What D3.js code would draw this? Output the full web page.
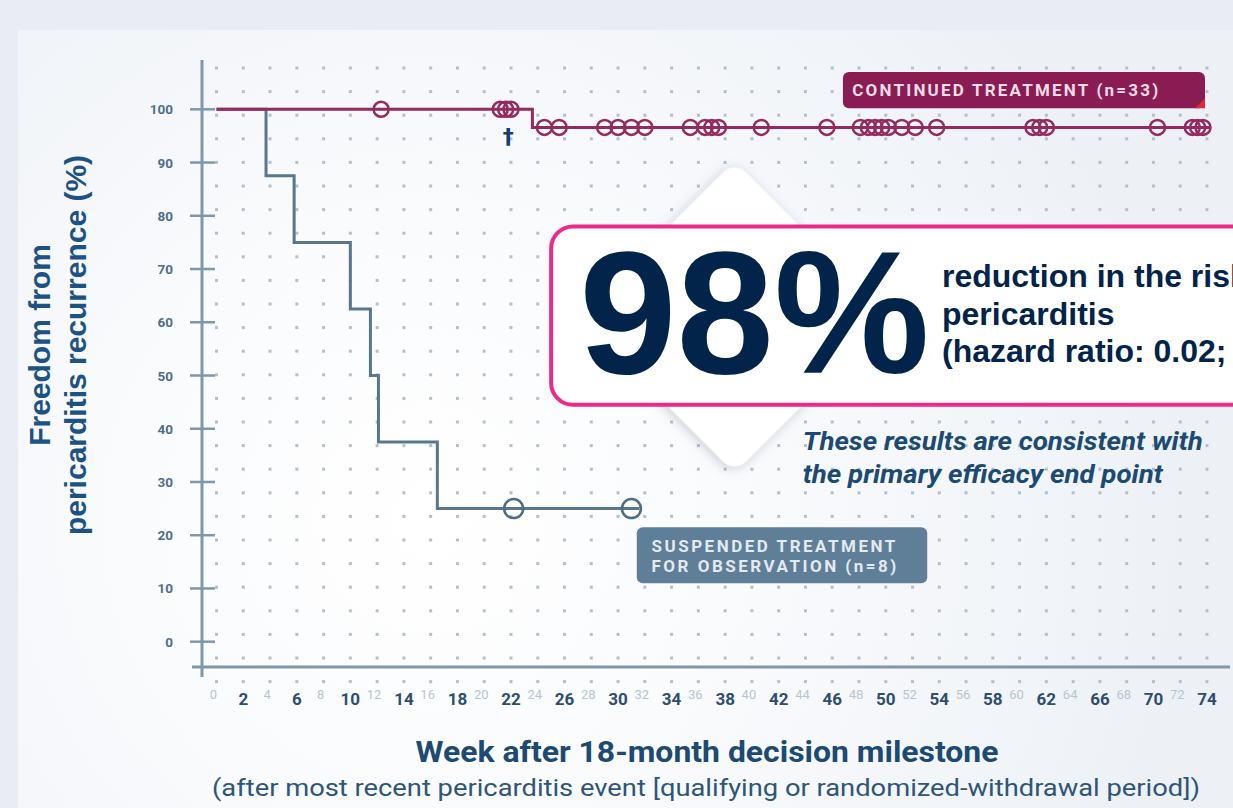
<!DOCTYPE html>
<html>
<head>
<meta charset="utf-8">
<script src="https://d3js.org/d3.v7.min.js"></script>
<style>
body { margin: 0; background: #e9edf3; overflow: hidden; }
svg { display: block; }
</style>
</head>
<body>
<script>
var w = 1233, h = 808;

// axis ticks
var yTicks = [0, 10, 20, 30, 40, 50, 60, 70, 80, 90, 100];
var xMajor = [2, 6, 10, 14, 18, 22, 26, 30, 34, 38, 42, 46, 50, 54, 58, 62, 66, 70, 74];
var xMinor = [0, 4, 8, 12, 16, 20, 24, 28, 32, 36, 40, 44, 48, 52, 56, 60, 64, 68, 72];

// continued treatment (n=33)
var contTimes = [0, 23.6];
var contSurv = [100, 96.6];
var contEnd = 74.3;
var contCensor = [12.3, 21.2, 21.6, 22.0, 24.5, 25.6, 29.0, 30.0, 31.0, 32.0, 35.4, 36.5, 37.0, 37.5,
  40.7, 45.6, 48.1, 48.7, 49.2, 49.7, 50.2, 51.2, 52.2, 53.8, 61.0, 61.5, 62.0, 70.3, 72.9, 73.3, 73.7];
var deathWeek = 21.8;

// suspended treatment (n=8)
var suspTimes = [0, 3.7, 5.8, 10.0, 11.5, 12.1, 16.5];
var suspSurv = [100, 87.5, 75, 62.5, 50, 37.5, 25];
var suspEnd = 31.6;
var suspCensor = [22.2, 31.0];

var svg = d3.select("body").append("svg")
  .attr("width", w)
  .attr("height", h);

var defs = svg.append("defs");
var rg = defs.append("radialGradient").attr("id", "bg")
  .attr("gradientUnits", "userSpaceOnUse")
  .attr("cx", 430).attr("cy", 520).attr("r", 760);
rg.append("stop").attr("offset", "0%").attr("stop-color", "#ffffff");
rg.append("stop").attr("offset", "40%").attr("stop-color", "#fafbfd");
rg.append("stop").attr("offset", "100%").attr("stop-color", "#edf1f6");

var sh = defs.append("filter").attr("id", "shadow")
  .attr("x", "-30%").attr("y", "-30%").attr("width", "160%").attr("height", "160%");
sh.append("feDropShadow").attr("dx", 0).attr("dy", 3).attr("stdDeviation", 6)
  .attr("flood-color", "#6b7a8c").attr("flood-opacity", 0.35);

// background panel
svg.append("rect").attr("width", w).attr("height", h).attr("fill", "#e9edf3");
svg.append("rect").attr("x", 18).attr("y", 30).attr("width", w - 18).attr("height", h - 30)
  .attr("fill", "url(#bg)");

var x = d3.scaleLinear().domain([0, 74]).range([216.5, 1207]);
var y = d3.scaleLinear().domain([0, 100]).range([641.7, 109.3]);

// dot grid
var dotCols = d3.range(0, 75, 2);
var dotRows = d3.range(0, 27).map(function(i) { return 68 + i * 23.6; });
var dots = svg.append("g");
dotRows.forEach(function(ry) {
  dotCols.forEach(function(c) {
    dots.append("rect")
      .attr("x", x(c) - 1.5).attr("y", ry - 1.5)
      .attr("width", 3).attr("height", 3)
      .attr("fill", "#b3bfcc");
  });
});

// axes
var axisCol = "#8096ab";
svg.append("line")
  .attr("x1", 192).attr("x2", 1230).attr("y1", 667).attr("y2", 667)
  .attr("stroke", axisCol).attr("stroke-width", 3);
svg.append("line")
  .attr("x1", 202).attr("x2", 202).attr("y1", 60).attr("y2", 677)
  .attr("stroke", axisCol).attr("stroke-width", 3);

var yAx = svg.append("g");
yAx.selectAll("line").data(yTicks).enter().append("line")
  .attr("x1", 190).attr("x2", 215)
  .attr("y1", function(d) { return y(d); }).attr("y2", function(d) { return y(d); })
  .attr("stroke", axisCol).attr("stroke-width", 2.5);
yAx.selectAll("text").data(yTicks).enter().append("text")
  .text(function(d) { return d; })
  .attr("x", 173).attr("y", function(d) { return y(d) + 5; })
  .attr("text-anchor", "end")
  .attr("font-family", "Roboto, sans-serif").attr("font-weight", "bold")
  .attr("font-size", 13.5).attr("fill", "#4f6e8c");

var xAx = svg.append("g");
xAx.selectAll("text.maj").data(xMajor).enter().append("text")
  .attr("class", "maj")
  .text(function(d) { return d; })
  .attr("x", function(d) { return x(d); }).attr("y", 705)
  .attr("text-anchor", "middle")
  .attr("font-family", "Roboto, sans-serif").attr("font-weight", "bold")
  .attr("font-size", 17).attr("fill", "#2d4e6f");
xAx.selectAll("text.min").data(xMinor).enter().append("text")
  .attr("class", "min")
  .text(function(d) { return d; })
  .attr("x", function(d) { return x(d) - 3; }).attr("y", 699)
  .attr("text-anchor", "middle")
  .attr("font-family", "Roboto, sans-serif")
  .attr("font-size", 13).attr("fill", "#b7c5d2");

// axis titles
svg.append("text")
  .attr("transform", "translate(50,345) rotate(-90)")
  .attr("text-anchor", "middle")
  .attr("font-family", "Liberation Sans, Arial, sans-serif").attr("font-weight", "bold")
  .attr("font-size", 30).attr("fill", "#1c5384")
  .text("Freedom from");
svg.append("text")
  .attr("transform", "translate(86,345) rotate(-90)")
  .attr("text-anchor", "middle")
  .attr("font-family", "Liberation Sans, Arial, sans-serif").attr("font-weight", "bold")
  .attr("font-size", 30).attr("fill", "#1c5384")
  .text("pericarditis recurrence (%)");

svg.append("text")
  .attr("x", 707).attr("y", 762)
  .attr("text-anchor", "middle")
  .attr("font-family", "Roboto, sans-serif").attr("font-weight", "bold")
  .attr("font-size", 29).attr("fill", "#1c4a72")
  .attr("textLength", 583).attr("lengthAdjust", "spacingAndGlyphs")
  .text("Week after 18-month decision milestone");
svg.append("text")
  .attr("x", 706).attr("y", 796)
  .attr("text-anchor", "middle")
  .attr("font-family", "Roboto, sans-serif")
  .attr("font-size", 24).attr("fill", "#2f5678")
  .attr("textLength", 988).attr("lengthAdjust", "spacingAndGlyphs")
  .text("(after most recent pericarditis event [qualifying or randomized-withdrawal period])");

// KM curves
function steps(times, surv, end) {
  var pts = times.map(function(t, i) { return { t: t, s: surv[i] }; });
  pts.push({ t: end, s: surv[surv.length - 1] });
  return pts;
}
function survAt(times, surv, t) {
  var s = surv[0];
  times.forEach(function(tt, i) { if (tt <= t) s = surv[i]; });
  return s;
}
var line = d3.line()
  .x(function(d) { return x(d.t); })
  .y(function(d) { return y(d.s); })
  .curve(d3.curveStepAfter);

var blue = "#58778f", red = "#952a5e";

svg.append("path").datum(steps(suspTimes, suspSurv, suspEnd))
  .attr("d", line).attr("fill", "none")
  .attr("stroke", blue).attr("stroke-width", 3);
svg.selectAll("circle.susp").data(suspCensor).enter().append("circle")
  .attr("class", "susp")
  .attr("cx", function(d) { return x(d); })
  .attr("cy", function(d) { return y(survAt(suspTimes, suspSurv, d)); })
  .attr("r", 9.5).attr("fill", "none")
  .attr("stroke", "#4d6c86").attr("stroke-width", 2.5);

svg.append("path").datum(steps(contTimes, contSurv, contEnd))
  .attr("d", line).attr("fill", "none")
  .attr("stroke", red).attr("stroke-width", 3);
svg.selectAll("circle.cont").data(contCensor).enter().append("circle")
  .attr("class", "cont")
  .attr("cx", function(d) { return x(d); })
  .attr("cy", function(d) { return y(survAt(contTimes, contSurv, d)); })
  .attr("r", 7.5).attr("fill", "none")
  .attr("stroke", red).attr("stroke-width", 2.5);

svg.append("text")
  .attr("x", x(deathWeek)).attr("y", y(94.6))
  .attr("text-anchor", "middle").attr("dominant-baseline", "middle")
  .attr("font-family", "DejaVu Sans, sans-serif").attr("font-weight", "bold")
  .attr("font-size", 22).attr("fill", "#123f66")
  .text("\u2020");

// group labels
var cg = svg.append("g");
cg.append("rect")
  .attr("x", x(46.8)).attr("y", y(107))
  .attr("width", x(73.85) - x(46.8)).attr("height", y(100.2) - y(107))
  .attr("rx", 6).attr("fill", "#8a1c54");
cg.append("path")
  .attr("d", "M" + (x(73.85) - 10) + "," + y(100.2) + "L" + x(73.85) + "," + (y(100.2) - 10) +
    "L" + x(73.85) + "," + y(100.2) + "Z")
  .attr("fill", "#e3263d");
cg.append("text")
  .attr("x", x(47.5)).attr("y", y(102.5))
  .attr("font-family", "Roboto, sans-serif").attr("font-weight", "bold")
  .attr("font-size", 17).attr("letter-spacing", 2.2).attr("fill", "#f2dde7")
  .text("CONTINUED TREATMENT (n=33)");

var sg = svg.append("g");
sg.append("rect")
  .attr("x", x(31.4)).attr("y", y(21.5))
  .attr("width", x(53.1) - x(31.4)).attr("height", y(11.0) - y(21.5))
  .attr("rx", 6).attr("fill", "#5f7e97");
sg.selectAll("text").data(["SUSPENDED TREATMENT", "FOR OBSERVATION (n=8)"]).enter().append("text")
  .attr("x", x(32.5)).attr("y", function(d, i) { return y(16.8) + i * 20; })
  .attr("font-family", "Roboto, sans-serif").attr("font-weight", "bold")
  .attr("font-size", 17).attr("letter-spacing", 2.5).attr("fill", "#e3eaf0")
  .text(function(d) { return d; });

// callout
var side = (y(31.7) - y(90.3)) / Math.SQRT2;
svg.append("rect")
  .attr("x", -side / 2).attr("y", -side / 2)
  .attr("width", side).attr("height", side).attr("rx", 16)
  .attr("transform", "translate(" + x(38.7) + "," + y(61.0) + ") rotate(45)")
  .attr("fill", "#ffffff").attr("filter", "url(#shadow)");

svg.append("rect")
  .attr("x", x(25)).attr("y", y(78))
  .attr("width", 740).attr("height", y(44.5) - y(78))
  .attr("rx", 22).attr("fill", "#ffffff")
  .attr("stroke", "#ec2a8c").attr("stroke-width", 4);

svg.append("text")
  .attr("x", x(27.1)).attr("y", y(50.4))
  .attr("font-family", "Liberation Sans, Arial, sans-serif").attr("font-weight", "bold")
  .attr("font-size", 175).attr("fill", "#03244a")
  .text("98%");

svg.selectAll("text.hr").data(["reduction in the risk of recurrent", "pericarditis", "(hazard ratio: 0.02; P<0.0001)"])
  .enter().append("text").attr("class", "hr")
  .attr("x", x(54.2)).attr("y", function(d, i) { return y(66.6) + i * 37.5; })
  .attr("font-family", "Liberation Sans, Arial, sans-serif").attr("font-weight", "bold")
  .attr("font-size", 32).attr("fill", "#03244a")
  .text(function(d) { return d; });

var noteLines = ["These results are consistent with", "the primary efficacy end point"];
var noteLen = [400, 360];
svg.selectAll("text.note").data(noteLines)
  .enter().append("text").attr("class", "note")
  .attr("x", x(43.8)).attr("y", function(d, i) { return y(36.1) + i * 33; })
  .attr("font-family", "Roboto, sans-serif").attr("font-weight", "bold").attr("font-style", "italic")
  .attr("font-size", 25).attr("fill", "#1b4a72")
  .attr("textLength", function(d, i) { return noteLen[i]; })
  .attr("lengthAdjust", "spacingAndGlyphs")
  .text(function(d) { return d; });
</script>
</body>
</html>
